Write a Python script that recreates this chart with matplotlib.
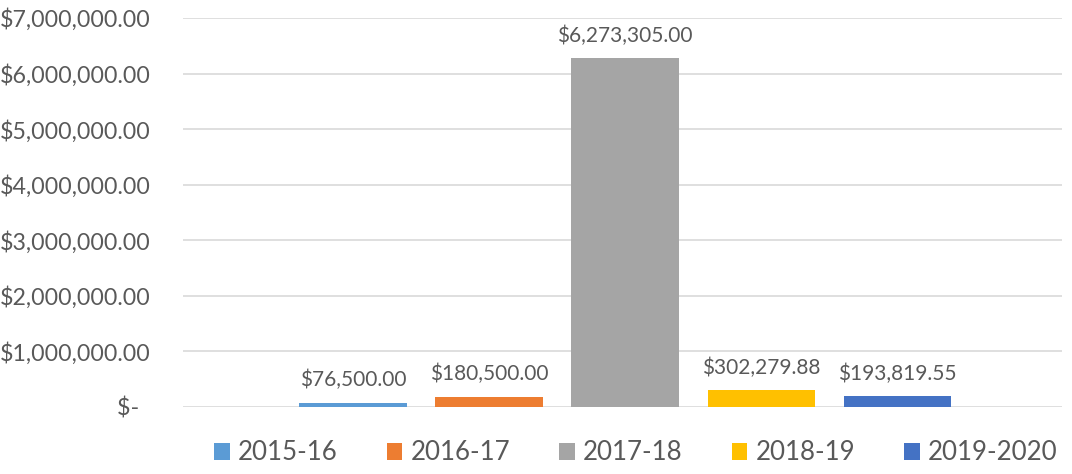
import matplotlib
matplotlib.use("Agg")
from matplotlib import pyplot as plt
from matplotlib.ticker import FuncFormatter

# data
years = ["2015-16", "2016-17", "2017-18", "2018-19", "2019-2020"]
amounts = [76500.00, 180500.00, 6273305.00, 302279.88, 193819.55]
colors = ["#5B9BD5", "#ED7D31", "#A5A5A5", "#FFC000", "#4472C4"]

plt.rcParams['font.family'] = ['Lato', 'DejaVu Sans']
txt = '#595959'

fig = plt.figure(figsize=(10.72, 4.74), dpi=100)
ax = fig.add_axes([183/1072, 67/474, 879/1072, 389/474])

w = 0.79
offsets = [i - 2 for i in range(len(years))]
for off, amt, c, yr in zip(offsets, amounts, colors, years):
    b = ax.bar(off, amt, width=w, color=c, label=yr, zorder=3)
    ax.bar_label(b, labels=['${:,.2f}'.format(amt)], padding=9,
                 fontsize=15, color=txt)

ax.set_xlim(-3.25, 3.21)
ax.set_ylim(0, 7000000)
ax.set_yticks(range(0, 7000001, 1000000))

def money(v, pos):
    if v == 0:
        return '$-  '
    return '${:,.2f}'.format(v)

ax.yaxis.set_major_formatter(FuncFormatter(money))
ax.tick_params(axis='y', length=0, pad=23, labelsize=16.7, labelcolor=txt)
ax.set_xticks([])
ax.grid(axis='y', color='#d9d9d9', linewidth=1.2, zorder=0)
for s in ax.spines.values():
    s.set_visible(False)

fig.legend(loc='center', bbox_to_anchor=(636/1072, 1 - 453/474), ncol=5,
           frameon=False, fontsize=18.6, labelcolor=txt,
           handlelength=0.6, handleheight=0.6, handletextpad=0.32,
           columnspacing=1.9)

plt.savefig('out.png', dpi=100)
